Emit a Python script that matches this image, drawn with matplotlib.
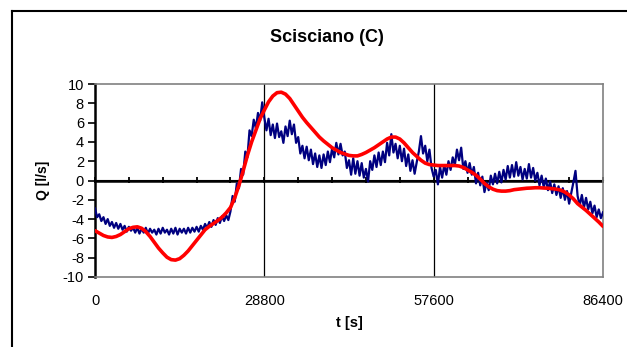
import numpy as np
import matplotlib
matplotlib.use("Agg")
import matplotlib.pyplot as plt
from matplotlib.lines import Line2D

plt.rcParams['font.family'] = ['Liberation Sans', 'DejaVu Sans']
plt.rcParams['axes.unicode_minus'] = False

# measured discharge, sampled every 360 s over one day
q_meas = [
    -2.9, -3.8, -3.5, -4.2, -3.8, -4.5, -4.0, -4.7, -4.3, -4.9,
    -4.4, -5.0, -4.5, -5.1, -4.7, -5.3, -4.8, -5.2, -4.9, -5.4,
    -4.9, -5.5, -5.0, -5.4, -4.9, -5.5, -5.0, -5.4, -5.1, -5.6,
    -5.0, -5.5, -4.9, -5.4, -5.1, -5.6, -5.0, -5.5, -4.9, -5.6,
    -5.0, -5.4, -5.0, -5.5, -4.9, -5.4, -4.9, -5.3, -4.8, -5.3,
    -4.7, -5.1, -4.5, -4.9, -4.3, -4.8, -4.1, -4.6, -3.9, -4.4,
    -3.7, -4.2, -3.6, -4.1,
    -3.2, -1.6, -2.2, -0.3, -0.8, 1.2, 0.6, 3.0, 2.4, 5.2,
    4.6, 6.3, 5.4, 7.0, 6.2, 8.1, 6.5,
    5.2, 6.4, 4.7, 5.8, 4.4, 5.9, 4.5, 5.1, 3.9, 5.6,
    4.6, 6.2, 4.8, 5.8, 3.9, 4.5, 2.8, 3.6, 2.3, 3.5,
    2.1, 3.2, 1.7, 2.8, 1.4, 2.6, 1.3, 2.7, 1.6, 3.0,
    1.9, 3.3, 2.4, 3.9, 2.7, 3.8, 2.6, 3.0, 1.3, 2.1,
    0.6, 2.3, 0.7, 2.0, 0.5, 1.8, 0.3, 1.2, -0.1, 2.0,
    1.1, 2.6, 1.4, 2.9, 1.6, 3.0, 1.9, 3.9, 2.6, 4.8,
    2.9, 3.8, 2.3, 3.6, 2.0, 3.3, 1.5, 2.7, 1.0, 2.1,
    0.7, 1.9, 3.0, 4.6, 2.8, 3.6, 2.0, 3.2, 1.3, 0.4,
    1.1, -0.4, 1.4, 0.3, 1.6, 0.6, 2.0, 1.1, 2.4, 1.6,
    3.2, 2.1, 3.4, 1.2, 2.0, 0.8, 1.8, 0.6, 1.4, -0.3,
    0.8, -0.5, 0.4, -1.2, -0.2, -1.0, 0.5, -0.4, 0.7, -0.3,
    0.9, -0.2, 1.1, 0.1, 1.5, 0.3, 1.6, 0.4, 1.9, 0.5,
    1.4, 0.1, 1.2, 0.2, 1.7, 0.3, 1.3, 0.0, 0.8, -0.5,
    0.5, -0.7, 0.2, -1.0, -0.1, -1.3, -0.4, -1.5, -0.6, -1.8,
    -0.8, -2.0, -1.1, -2.4, -1.3, -0.2, 1.0, -1.6, -2.6, -1.5,
    -2.8, -1.8, -3.0, -2.2, -3.4, -2.6, -3.8, -3.0, -3.9, -3.3,
]
t_meas = np.arange(len(q_meas)) * 360

# model curve, every 720 s
q_model = [
    -5.2, -5.45, -5.7, -5.85, -5.9, -5.8, -5.6, -5.3, -5.0, -4.85,
    -4.8, -4.95, -5.3, -5.8, -6.4, -7.0, -7.5, -7.95, -8.2, -8.25,
    -8.1, -7.75, -7.3, -6.75, -6.2, -5.65, -5.1, -4.75, -4.45, -4.15,
    -3.8, -3.35, -2.8, -1.8, -0.5, 1.0, 2.6, 4.0, 5.2, 6.4,
    7.3, 8.15, 8.75, 9.1, 9.15, 8.95, 8.5, 7.85, 7.2, 6.55,
    6.0, 5.5, 5.0, 4.5, 4.1, 3.75, 3.4, 3.15, 2.9, 2.75,
    2.6, 2.55, 2.55, 2.7, 2.9, 3.15, 3.4, 3.7, 4.0, 4.3,
    4.5, 4.5, 4.3, 3.9, 3.4, 2.9, 2.5, 2.1, 1.8, 1.65,
    1.6, 1.55, 1.55, 1.55, 1.55, 1.55, 1.5, 1.35, 1.1, 0.85,
    0.55, 0.15, -0.3, -0.65, -0.9, -1.05, -1.1, -1.1, -1.05, -0.95,
    -0.9, -0.85, -0.8, -0.78, -0.75, -0.75, -0.78, -0.8, -0.85, -0.9,
    -1.0, -1.2, -1.5, -1.9, -2.4, -2.75, -3.1, -3.5, -3.9, -4.3,
    -4.75,
]
t_model = np.arange(len(q_model)) * 720

xticks = [0, 28800, 57600, 86400]
yticks = list(range(-10, 11, 2))

fig = plt.figure(figsize=(6.27, 3.47), dpi=100)
ax = fig.add_axes([95/627, 70/347, 508/627, 193/347])

ax.plot(t_meas, q_meas, color='#000080', lw=1.6, zorder=3)
ax.plot(t_model, q_model, color='#ff0000', lw=2.6, zorder=4,
        solid_joinstyle='round', solid_capstyle='round')

for xv in xticks[1:3]:
    ax.axvline(xv, color='black', lw=0.9, zorder=1)
ax.axhline(0, color='black', lw=1.8, zorder=2)

ax.set_xlim(0, 86400)
ax.set_ylim(-10, 10)
ax.set_xticks(xticks)
ax.set_yticks(yticks)
ax.tick_params(axis='x', length=0, pad=12, labelsize=10.5)
ax.tick_params(axis='y', length=5, width=1.2, direction='out', pad=3, labelsize=10.5)

for s in ['top', 'right', 'bottom']:
    ax.spines[s].set_color('#808080')
    ax.spines[s].set_linewidth(1.2)
ax.spines['left'].set_color('black')
ax.spines['left'].set_linewidth(1.8)

# tick marks on the zero line
sec = ax.secondary_xaxis(0.5)
sec.set_xticks(np.arange(0, 86401, 5760))
sec.tick_params(length=5, width=1.3, direction='inout', labelbottom=False)
sec.spines['bottom'].set_visible(False)
sec.set_xticklabels([])

ax.set_xlabel('t [s]', fontweight='bold', fontsize=10.5, labelpad=6)
ax.set_ylabel('Q [l/s]', fontweight='bold', fontsize=10, labelpad=9)
fig.text(327/627, 1 - 37/347, 'Scisciano (C)', ha='center', va='center',
         fontweight='bold', fontsize=13)

# outer chart frame
fig.add_artist(Line2D([12/627, 12/627], [0, 1 - 11/347], color='black', lw=1.5,
                      transform=fig.transFigure))
fig.add_artist(Line2D([12/627, 1], [1 - 11/347, 1 - 11/347], color='black', lw=1.5,
                      transform=fig.transFigure))

fig.savefig('out.png', dpi=100)
